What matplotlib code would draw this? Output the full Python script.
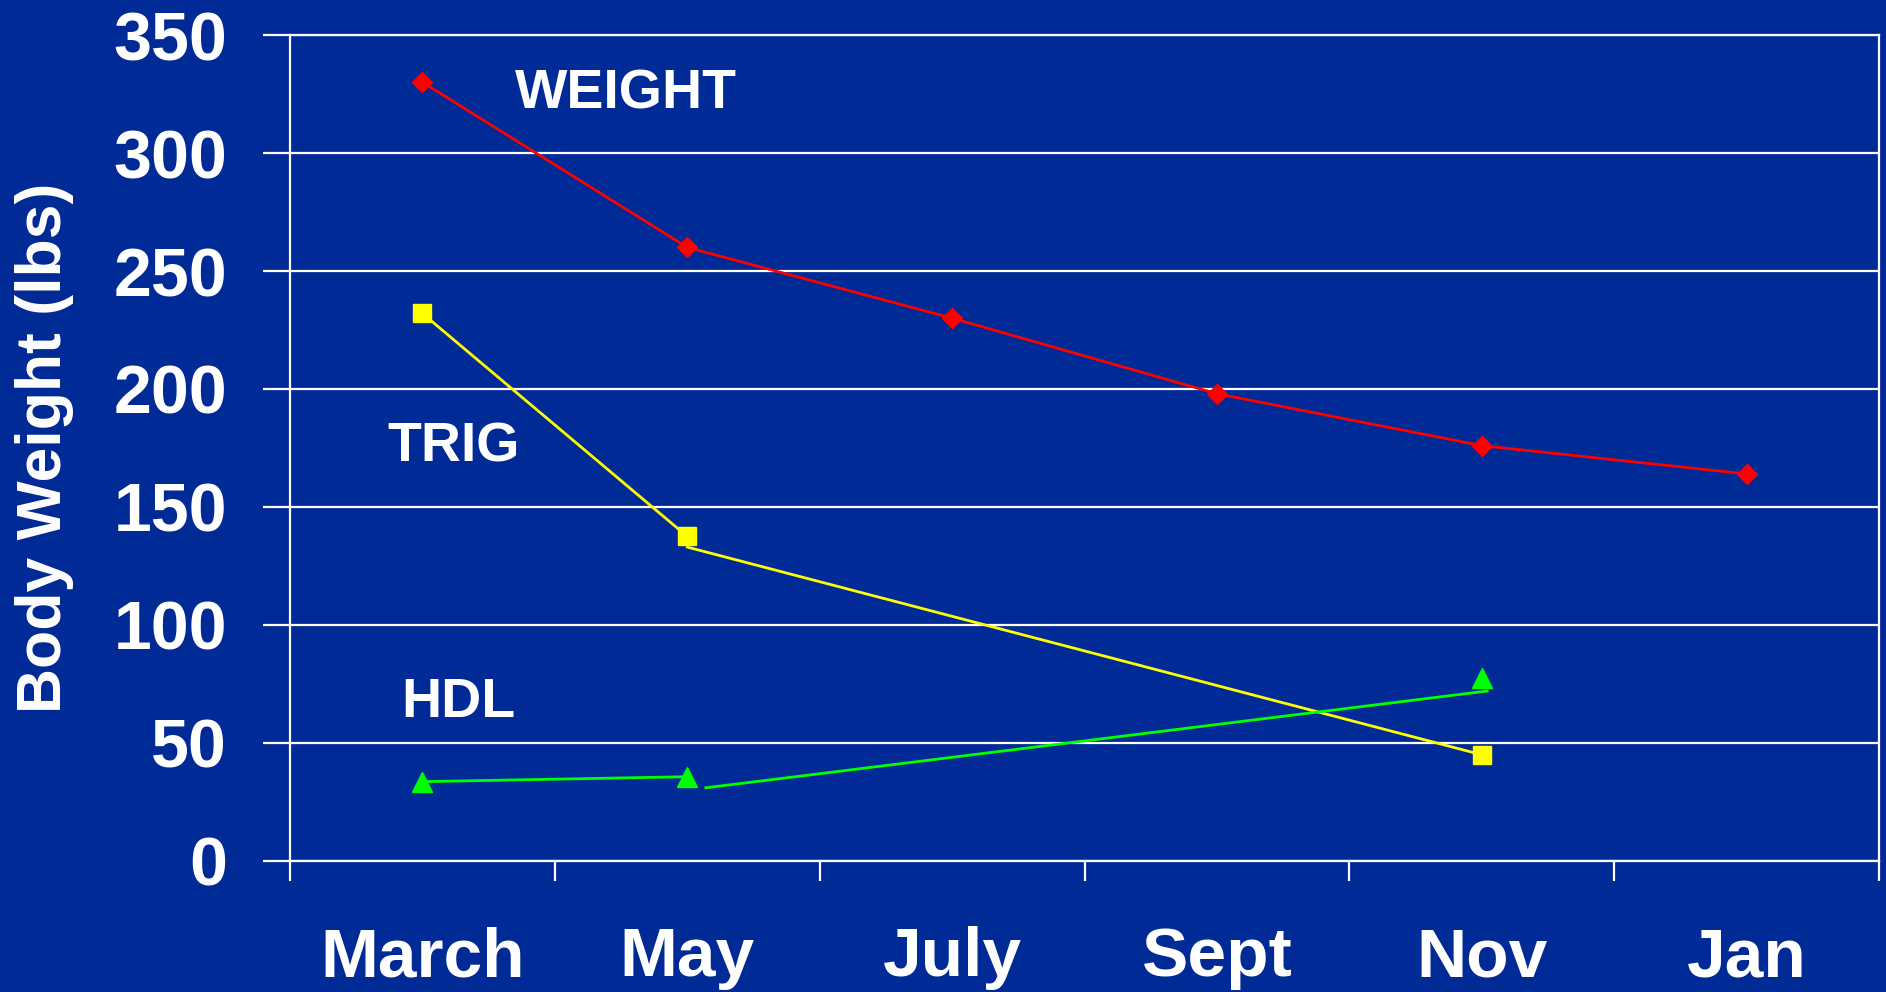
import matplotlib
matplotlib.use("Agg")
import matplotlib.pyplot as plt
import numpy as np

months = ["March", "May", "July", "Sept", "Nov", "Jan"]
weight = [330, 260, 230, 198, 176, 164]
trig_months = ["March", "May", "Nov"]
trig = [232, 137.5, 45]
hdl_months = ["March", "May", "Nov"]
hdl = [33.6, 35.7, 77.4]
# line segments as drawn in the original (slightly offset from markers)
trig_seg2 = [133, 45]
hdl_seg2 = [31, 72]
yticks = [0, 50, 100, 150, 200, 250, 300, 350]

BG = "#002A96"
plt.rcParams['font.family'] = ['Liberation Sans', 'DejaVu Sans']
plt.rcParams['font.weight'] = 'bold'

fig = plt.figure(figsize=(18.86, 9.92), dpi=100, facecolor=BG)
ax = fig.add_axes([0.1538, 0.1321, 0.8425, 0.8326], facecolor=BG)

xi = {m: i for i, m in enumerate(months)}
wx = [xi[m] for m in months]
tx = [xi[m] for m in trig_months]
hx = [xi[m] for m in hdl_months]

# weight
ax.plot(wx, weight, color="#FF0000", lw=2, marker="D", ms=10.5, mec="#FF0000", zorder=4)
# trig
ax.plot(tx[:2], trig[:2], color="#FFFF00", lw=2, zorder=3)
ax.plot([tx[1], tx[2]], trig_seg2, color="#FFFF00", lw=2, zorder=3)
ax.plot(tx, trig, ls="none", marker="s", ms=12.5, color="#FFFF00", zorder=4)
# hdl
ax.plot(hx[:2], hdl[:2], color="#00FF00", lw=2, zorder=3)
ax.plot([hx[1] + 0.07, hx[2] + 0.02], hdl_seg2, color="#00FF00", lw=2, zorder=3)
ax.plot(hx, hdl, ls="none", marker="^", ms=14, color="#00FF00", zorder=4)

ax.set_xlim(-0.5, len(months) - 0.5)
ax.set_ylim(0, 350)
ax.set_yticks(yticks)
ax.set_yticklabels([str(v) for v in yticks], fontsize=49, fontweight='bold', color='white')
ax.yaxis.grid(True, color='white', lw=1.6, zorder=1)
ax.set_axisbelow(True)

ax.set_xticks(range(len(months)))
ax.set_xticklabels(months, fontsize=50, fontweight='bold', color='white')
ax.set_xticks(np.arange(-0.5, len(months), 1.0), minor=True)
ax.tick_params(axis='x', which='major', length=0, pad=47)
ax.tick_params(axis='x', which='minor', length=14.5, width=1.6, color='white', direction='out')
ax.tick_params(axis='y', which='major', length=19.5, width=1.6, color='white', direction='out', pad=26)

for s in ax.spines.values():
    s.set_color('white')
    s.set_linewidth(1.6)

ax.set_ylabel("Body Weight (lbs)", fontsize=45, fontweight='bold', color='white', labelpad=0)
ax.yaxis.set_label_coords(-0.136, 0.5)

ax.text(0.767, 325, "WEIGHT", fontsize=40, fontweight='bold', color='white', ha='center', va='center')
ax.text(0.118, 175, "TRIG", fontsize=40, fontweight='bold', color='white', ha='center', va='center')
ax.text(0.136, 67, "HDL", fontsize=40, fontweight='bold', color='white', ha='center', va='center')

fig.savefig("out.png", dpi=100, facecolor=BG)
